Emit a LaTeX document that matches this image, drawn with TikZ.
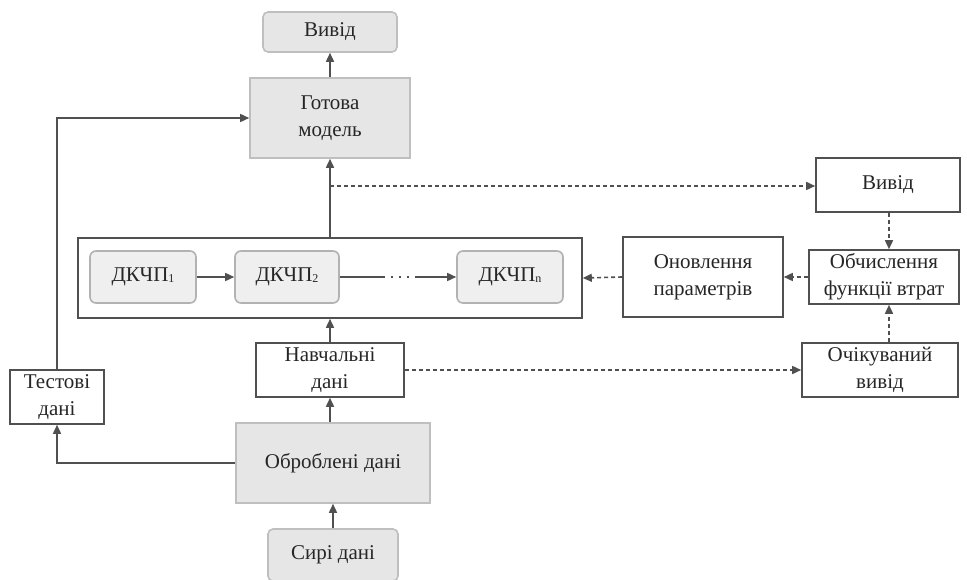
\documentclass[tikz,border=0pt]{standalone}
\usepackage{fontspec}
\setmainfont{Liberation Serif}
\usetikzlibrary{arrows.meta}
\definecolor{edge}{HTML}{505050}
\definecolor{boxgray}{HTML}{E6E6E6}
\definecolor{cellgray}{HTML}{EFEFEF}
\newcommand{\sub}[1]{\raisebox{-0.5pt}{\fontsize{12}{12}\selectfont #1}}
\begin{document}
\begin{tikzpicture}[x=1pt,y=-1pt,
  every node/.style={font=\fontsize{21}{27}\selectfont, text=black!85, align=center, inner sep=0pt},
  plain/.style={draw=edge, line width=1.6pt, fill=white},
  shaded/.style={draw=black!25, line width=1.6pt, fill=boxgray},
  roundbox/.style={draw=black!25, line width=1.6pt, fill=boxgray, rounded corners=5pt},
  cell/.style={draw=black!30, line width=1.6pt, fill=cellgray, rounded corners=6pt},
  flow/.style={draw=edge, line width=1.6pt, -{Triangle[length=9pt,width=8pt]}},
  dflow/.style={flow, dash pattern=on 4pt off 3pt}]
\useasboundingbox (0,0) rectangle (967,580);

% boxes, placed by their corners
\node[roundbox, minimum width=134pt, minimum height=40pt] (out) at (330,32) {Вивід};
\node[shaded, minimum width=160pt, minimum height=80pt] (model) at (330,118) {Готова\\модель};
\node[plain, minimum width=504pt, minimum height=80pt] (stack) at (330,278) {};
\node[cell, minimum width=106pt, minimum height=52pt] (c1) at (143,277) {ДКЧП\sub{1}};
\node[cell, minimum width=104pt, minimum height=52pt] (c2) at (287,277) {ДКЧП\sub{2}};
\node[cell, minimum width=106pt, minimum height=52pt] (cn) at (510,277) {ДКЧП\sub{n}};
\node[plain, minimum width=148pt, minimum height=54pt] (train) at (330,370) {Навчальні\\дані};
\node[plain, minimum width=94pt, minimum height=54pt] (test) at (57,397) {Тестові\\дані};
\node[shaded, minimum width=194pt, minimum height=80pt] (proc) at (333,463) {Оброблені дані};
\node[roundbox, minimum width=130pt, minimum height=52pt] (raw) at (333,555) {Сирі дані};

\node[plain, minimum width=144pt, minimum height=54pt] (pred) at (888,185) {Вивід};
\node[plain, minimum width=150pt, minimum height=54pt] (loss) at (884,277) {Обчислення\\функції втрат};
\node[plain, minimum width=160pt, minimum height=80pt] (upd) at (703,277) {Оновлення\\параметрів};
\node[plain, minimum width=156pt, minimum height=54pt] (exp) at (880,370) {Очікуваний\\вивід};

% solid data flow
\draw[flow] (raw.north) -- (raw.north |- proc.south);
\draw[flow] (proc.north -| train.south) -- (train.south);
\draw[flow] (train.north) -- (stack.south -| train.north);
\draw[flow] (stack.north -| model.south) -- (model.south);
\draw[flow] (model.north -| out.south) -- (out.south);
\draw[flow] (proc.west) -| (test.south);
\draw[flow] (test.north) |- (model.west);
\draw[flow] (c1.east) -- (c2.west);
\coordinate (gapA) at (383,277);
\coordinate (gapB) at (415,277);
\draw[draw=edge, line width=1.6pt] (c2.east) -- (gapA);
\draw[draw=edge, line width=1.6pt, dash pattern=on 2pt off 6pt] (gapA) -- (gapB);
\draw[flow] (gapB) -- (cn.west);

% dashed training loop
\coordinate (tap) at (330,186);
\draw[dflow] (tap) -- (pred.west |- tap);
\draw[dflow] (train.east) -- (exp.west |- train.east);
\draw[dflow] (pred.south -| 889,0) -- (loss.north -| 889,0);
\draw[dflow] (exp.north -| 889,0) -- (loss.south -| 889,0);
\draw[dflow] (loss.west) -- (upd.east);
\draw[dflow] (upd.west) -- (stack.east);
\end{tikzpicture}
\end{document}
